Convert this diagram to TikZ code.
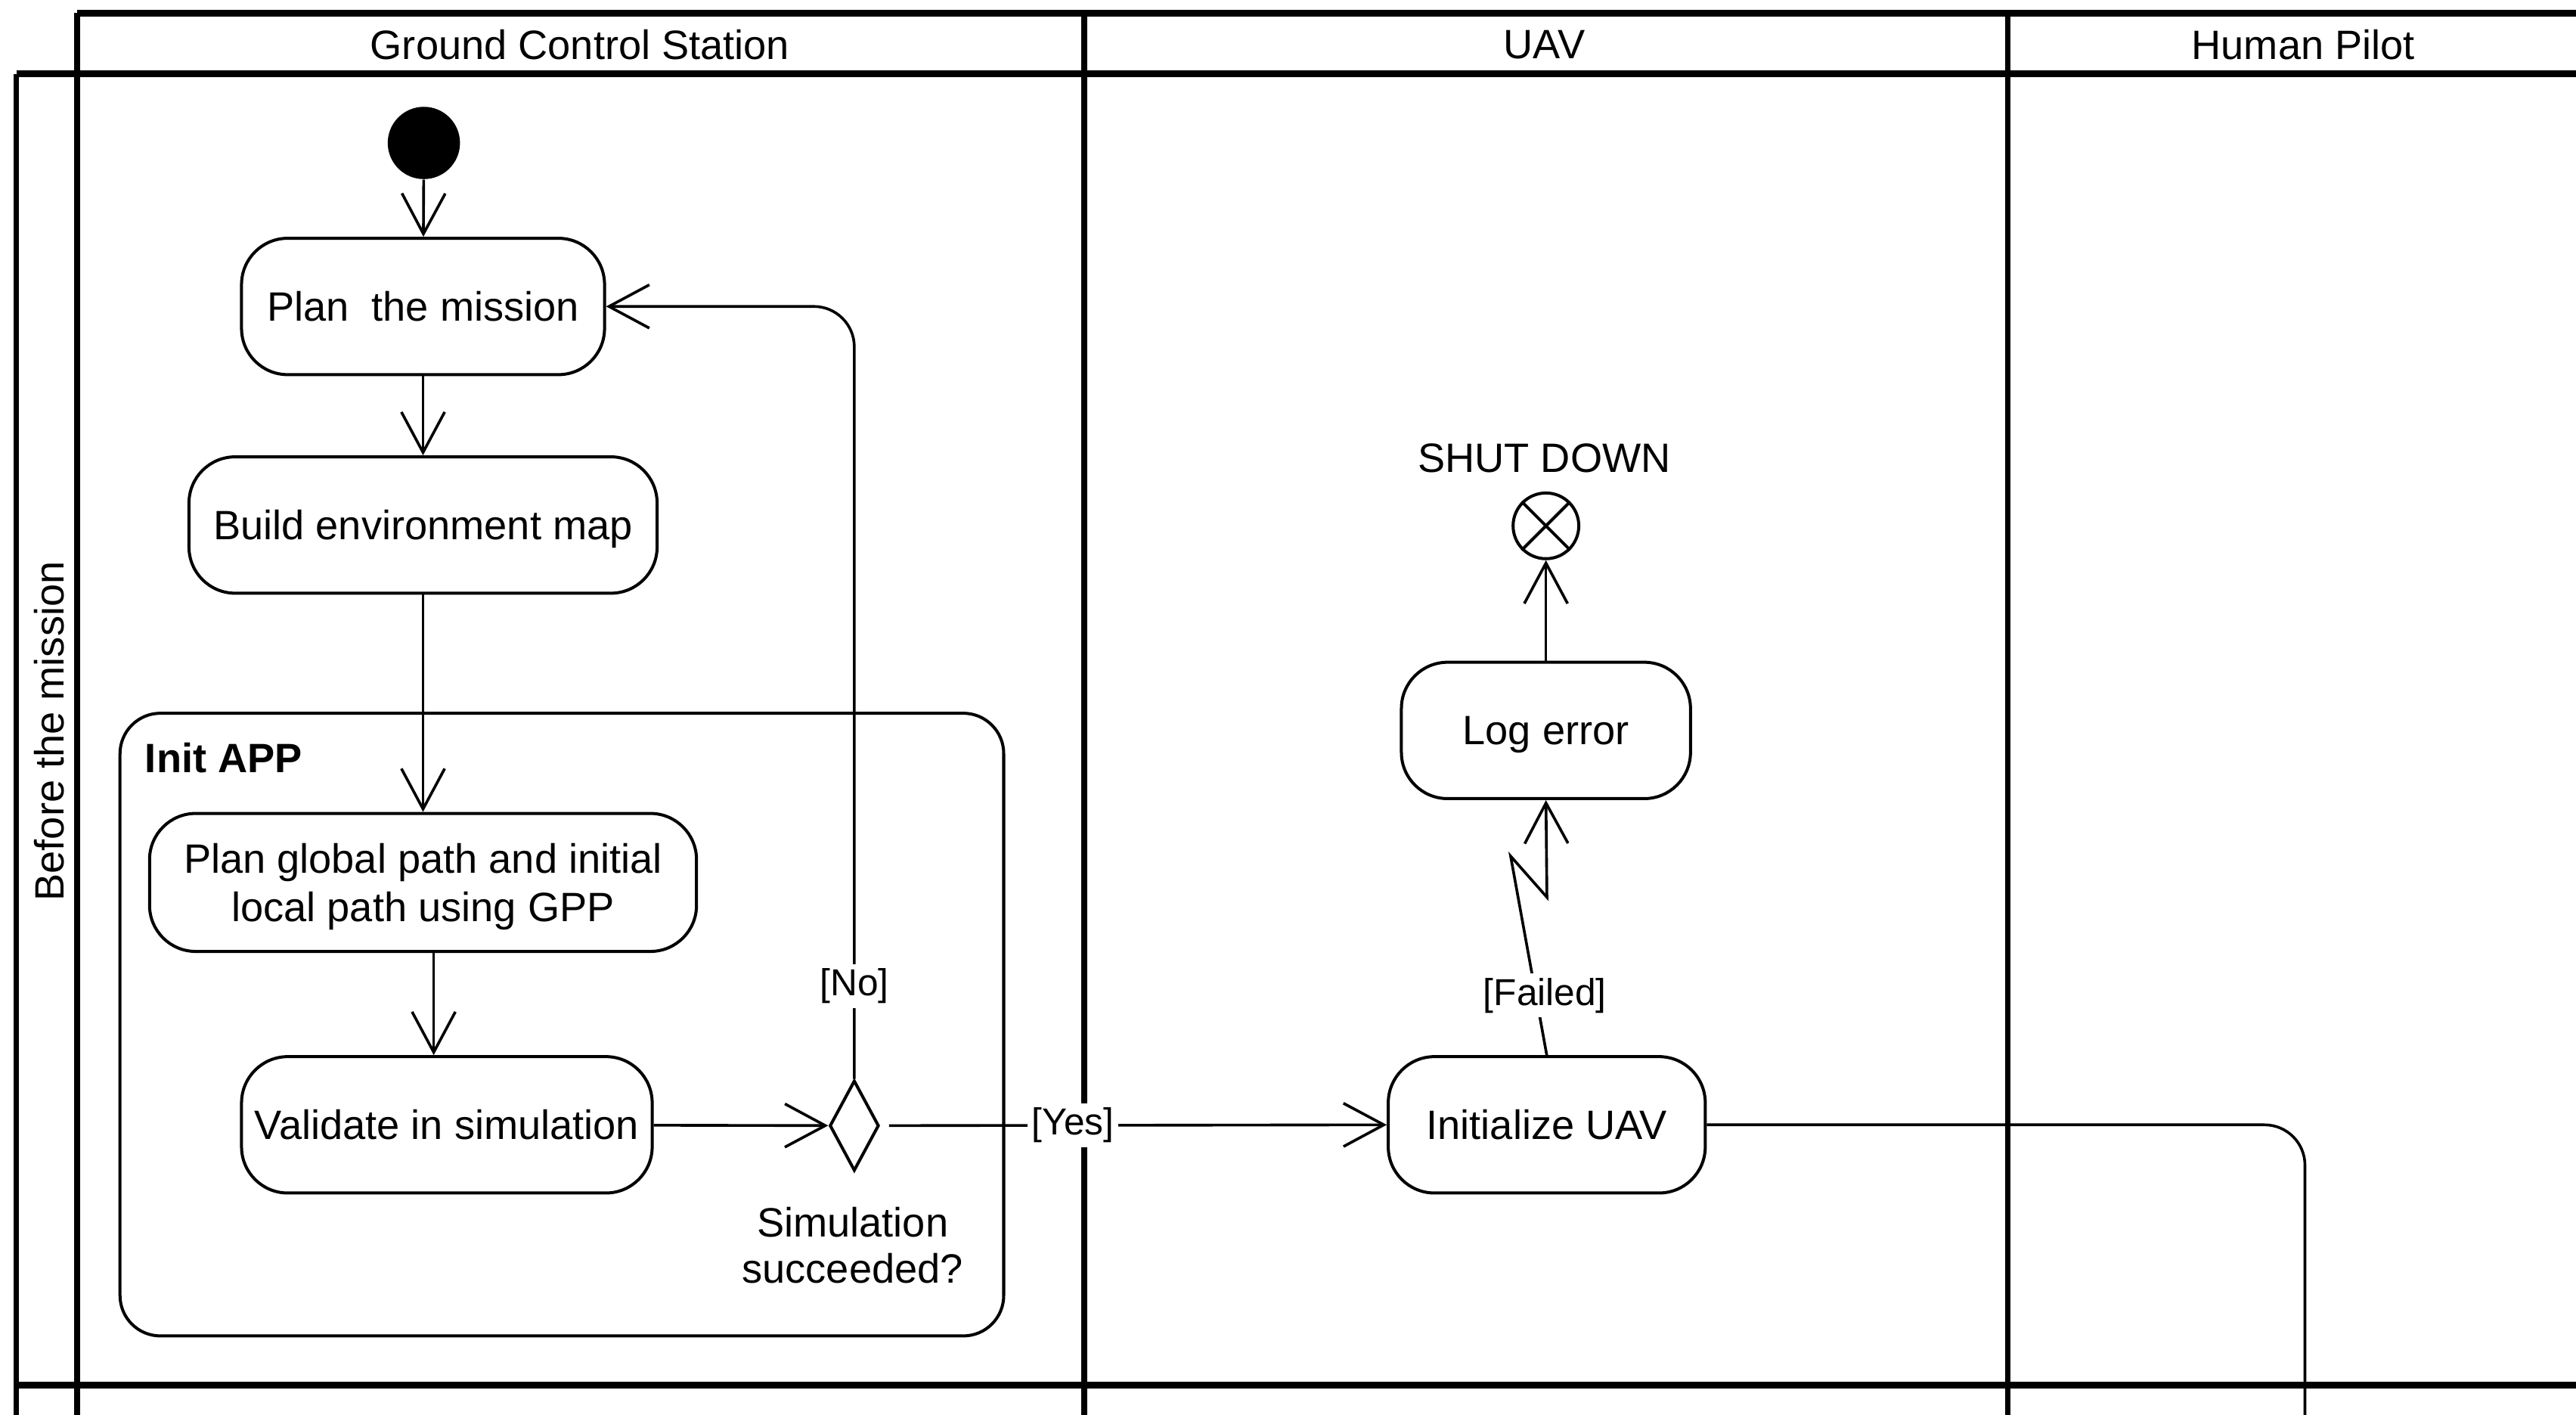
\documentclass[tikz,border=0pt]{standalone}
\usepackage{fontspec}
\setmainfont{Liberation Sans}
\usetikzlibrary{arrows.meta,shapes.geometric,calc}

\begin{document}
\begin{tikzpicture}[x=0.02cm,y=-0.02cm,
  txt/.style={font=\fontsize{14.2}{17}\selectfont},
  action/.style={txt, draw, line width=1.05pt, rounded corners=16pt, align=center, inner sep=0pt, text depth=0pt},
  flow/.style={line width=0.95pt, -{Straight Barb[length=14pt,width=15pt,line width=0.95pt]}},
  plain/.style={line width=0.95pt},
  guard/.style={fill=white, inner sep=1.5pt, font=\fontsize{13}{15}\selectfont},
  lane/.style={line width=1.9pt},
  laneh/.style={line width=2.4pt}]

\useasboundingbox (0,0) rectangle (1568,861);
\clip (0,0) rectangle (1568,861);

% swimlane frame
\draw[laneh] (47,8) -- (1600,8);
\draw[laneh] (10,45) -- (1600,45);
\draw[laneh] (10,843) -- (1600,843);
\draw[lane] (10,45) -- (10,900);
\draw[lane] (47,8) -- (47,900);
\draw[lane] (660,8) -- (660,900);
\draw[lane] (1222,8) -- (1222,900);

\node[txt] (gcs) at (353,27) {Ground Control Station};
\node[txt] (uav) at (940,27) {UAV};
\node[txt] (pilot) at (1402,27) {Human Pilot};
\node[txt, rotate=90] (phase) at (30,445) {Before the mission};

% structured activity
\node[draw, line width=1.05pt, rounded corners=14pt, minimum width=10.76cm, minimum height=7.58cm, inner sep=0pt] (initapp) at (342,623.5) {};
\node[txt, font=\fontsize{14.2}{17}\selectfont\bfseries, anchor=west, inner sep=0pt] (initlbl) at (88,461) {Init APP};

% nodes
\node[circle, fill=black, minimum size=0.88cm, inner sep=0pt] (start) at (258,87) {};
\node[action, minimum width=4.42cm, minimum height=1.66cm] (plan) at (257.5,186.5) {Plan\ \ the mission};
\node[action, minimum width=5.70cm, minimum height=1.66cm] (map) at (257.5,319.5) {Build environment map};
\node[action, minimum width=6.66cm, minimum height=1.68cm] (gpp) at (257.5,537) {Plan global path and initial\\local path using GPP};
\node[action, minimum width=5.00cm, minimum height=1.66cm] (val) at (272,684.5) {Validate in simulation};
\node[diamond, draw, line width=1.05pt, minimum width=0.6cm, minimum height=1.1cm, inner sep=0pt] (dec) at (520,685) {};
\node[txt, align=center, font=\fontsize{14.2}{16}\selectfont] (declbl) at (519,758) {Simulation\\succeeded?};
\node[action, minimum width=3.86cm, minimum height=1.66cm] (init) at (941.5,684.5) {Initialize UAV};
\node[action, minimum width=3.52cm, minimum height=1.66cm] (log) at (941,444.5) {Log error};
\node[circle, draw, line width=1.05pt, minimum size=0.8cm, inner sep=0pt] (sd) at (941,320) {};
\draw[line width=1.05pt] (sd.north west) -- (sd.south east) (sd.north east) -- (sd.south west);
\node[txt] (sdlbl) at (940,279) {SHUT DOWN};

\coordinate (z1) at (919.5,521);
\coordinate (z2) at (941.6,546);
\coordinate (down) at (1403,900);

% flows
\draw[flow] (start) -- (plan);
\draw[flow] (plan) -- (map);
\draw[flow] (map.south) -- (map.south |- gpp.north);
\draw[flow] ([xshift=0.13cm]gpp.south) -- ([xshift=0.13cm]gpp.south |- val.north);
\draw[flow] (val) -- (dec);
\draw[flow, rounded corners=14pt] (dec.north) -- node[guard, pos=0.12] {[No]} (dec.north |- plan.east) -- (plan.east);
\draw[flow, shorten <=3pt] (dec.east) -- node[guard, pos=0.38] {[Yes]} (init.west);
\draw[flow] (init.north) -- node[guard, pos=0.3, xshift=0.11cm] {[Failed]} (z1) -- (z2) -- (log.south);
\draw[flow] (log) -- (sd);
\draw[plain, rounded corners=14pt] (init.east) -- (down |- init.east) -- (down);
\end{tikzpicture}
\end{document}
